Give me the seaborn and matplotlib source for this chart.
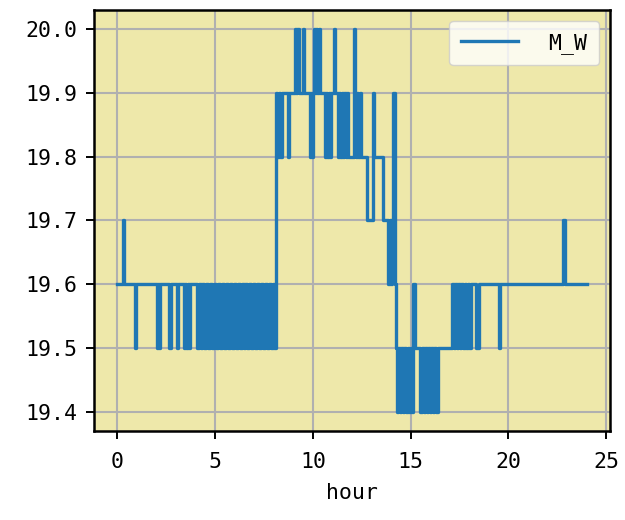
import numpy as np
import pandas as pd
import seaborn as sns
import matplotlib
matplotlib.use('Agg')
import matplotlib.pyplot as plt

# 변화 시점(hour)과 그때의 M_W 값 - 그림에서 읽은 값
night_hour = [0.0, 0.28, 0.33, 0.92, 0.97, 2.0, 2.05, 2.13, 2.18, 2.65, 2.72,
              3.03, 3.1, 3.38, 3.45, 3.52, 3.6, 3.66, 3.73, 4.08, 4.17,
              4.25, 4.35, 4.45, 4.55, 4.65, 4.75, 4.85, 4.95, 5.05, 5.15,
              5.25, 5.35, 5.45, 5.55, 5.65, 5.75, 5.85, 5.95, 6.05, 6.15,
              6.25, 6.35, 6.45, 6.55, 6.65, 6.75, 6.85, 6.95, 7.05, 7.15,
              7.25, 7.35, 7.45, 7.55, 7.65, 7.75, 7.85, 7.95, 8.0]
night_mw = [19.6, 19.7, 19.6, 19.5, 19.6, 19.5, 19.6, 19.5, 19.6, 19.5, 19.6,
            19.5, 19.6, 19.5, 19.6, 19.5, 19.6, 19.5, 19.6, 19.5, 19.6,
            19.5, 19.6, 19.5, 19.6, 19.5, 19.6, 19.5, 19.6, 19.5, 19.6,
            19.5, 19.6, 19.5, 19.6, 19.5, 19.6, 19.5, 19.6, 19.5, 19.6,
            19.5, 19.6, 19.5, 19.6, 19.5, 19.6, 19.5, 19.6, 19.5, 19.6,
            19.5, 19.6, 19.5, 19.6, 19.5, 19.6, 19.5, 19.6, 19.5]

day_hour = [8.1, 8.18, 8.25, 8.32, 8.4, 8.74, 8.8,
            9.07, 9.13, 9.2, 9.27, 9.47, 9.53,
            9.83, 9.89, 9.95, 10.01, 10.05, 10.11, 10.17, 10.23, 10.29, 10.34,
            10.6, 10.67, 10.74, 10.81, 10.88, 10.94, 11.08, 11.14,
            11.27, 11.33, 11.4, 11.47, 11.54, 11.61, 11.68, 11.74, 11.78,
            12.1, 12.15, 12.21, 12.27, 12.33, 12.39, 12.45,
            12.75, 13.08, 13.14, 13.58,
            13.85, 13.92, 13.98, 14.04, 14.12, 14.18]
day_mw = [19.9, 19.8, 19.9, 19.8, 19.9, 19.8, 19.9,
          20.0, 19.9, 20.0, 19.9, 20.0, 19.9,
          19.8, 19.9, 19.8, 19.9, 20.0, 19.9, 20.0, 19.9, 20.0, 19.9,
          19.8, 19.9, 19.8, 19.9, 19.8, 19.9, 20.0, 19.9,
          19.8, 19.9, 19.8, 19.9, 19.8, 19.9, 19.8, 19.9, 19.8,
          20.0, 19.9, 19.8, 19.9, 19.8, 19.9, 19.8,
          19.7, 19.9, 19.8, 19.7,
          19.6, 19.7, 19.6, 19.7, 19.9, 19.6]

evening_hour = [14.23, 14.28, 14.36, 14.44, 14.52, 14.6, 14.68, 14.76, 14.84,
                14.92, 15.0, 15.06, 15.14, 15.2,
                15.5, 15.58, 15.66, 15.74, 15.82, 15.9, 15.98, 16.06, 16.14,
                16.22, 16.3, 16.38,
                17.12, 17.2, 17.28, 17.36, 17.44, 17.52, 17.6, 17.68, 17.76,
                17.84, 17.92, 18.0, 18.08,
                18.36, 18.52, 19.5, 19.58, 22.78, 22.9, 24.0]
evening_mw = [19.5, 19.4, 19.5, 19.4, 19.5, 19.4, 19.5, 19.4, 19.5,
              19.4, 19.5, 19.4, 19.6, 19.5,
              19.4, 19.5, 19.4, 19.5, 19.4, 19.5, 19.4, 19.5, 19.4,
              19.5, 19.4, 19.5,
              19.6, 19.5, 19.6, 19.5, 19.6, 19.5, 19.6, 19.5, 19.6,
              19.5, 19.6, 19.5, 19.6,
              19.5, 19.6, 19.5, 19.6, 19.7, 19.6, 19.6]

df = pd.DataFrame({'hour': night_hour + day_hour + evening_hour,
                   'M_W': night_mw + day_mw + evening_mw})

plt.rcParams['font.family'] = ['DejaVu Sans Mono']
plt.rcParams['font.size'] = 15.5

fig = plt.figure(figsize=(6.25, 5.2), dpi=100)
ax = fig.add_axes([0.1504, 0.1712, 0.8256, 0.8096])
ax.set_facecolor('palegoldenrod')

sns.lineplot(data=df, x='hour', y='M_W', estimator=None, drawstyle='steps-post',
             color='#1f77b4', lw=2.4, label='M_W', ax=ax)

ax.grid(True, color='#b0b0b0', lw=1.5)
ax.set_axisbelow(True)
for s in ax.spines.values():
    s.set_color('black')
    s.set_linewidth(1.8)
ax.tick_params(axis='both', length=6, width=1.4, labelsize=15.5)
ax.tick_params(axis='x', pad=9)
ax.tick_params(axis='y', pad=6)
ax.set_xlabel('hour', fontsize=15.5, labelpad=8)
ax.set_ylabel('')

ax.legend(loc='upper right', fontsize=15.5, handlelength=2.65, handletextpad=1.4,
          borderpad=0.55, framealpha=0.8)

plt.savefig('out.png', dpi=100)
